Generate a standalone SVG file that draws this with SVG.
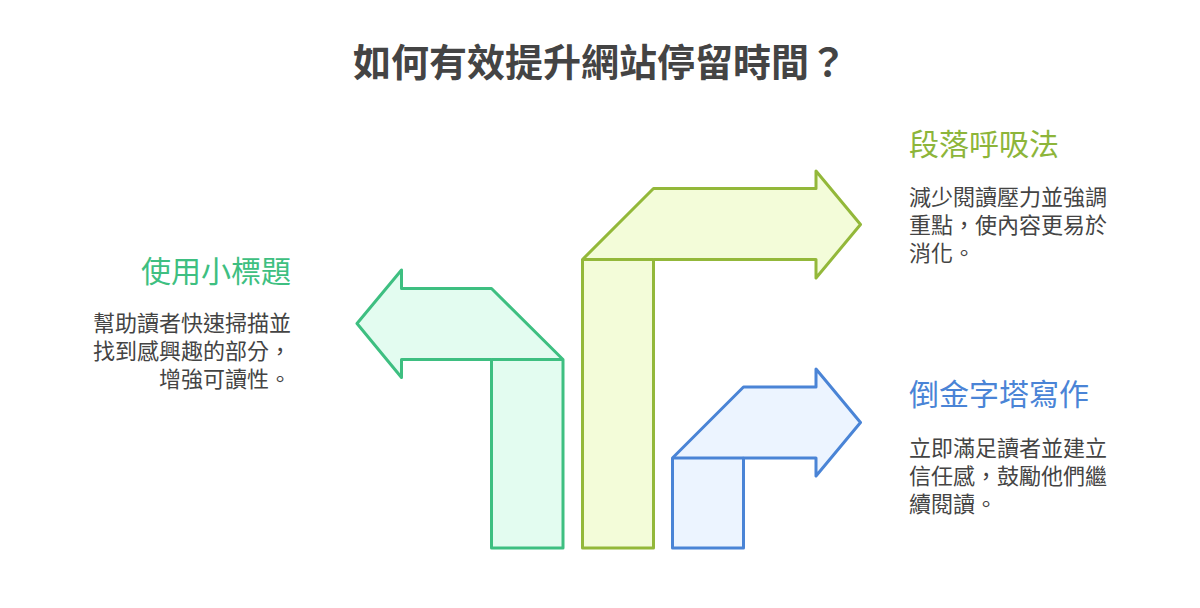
<svg xmlns="http://www.w3.org/2000/svg" width="1200" height="608" viewBox="0 0 1200 608">
<style>
.t{font-family:"Noto Sans CJK TC","Noto Sans CJK SC",sans-serif}
.title{font-size:38px;font-weight:bold;fill:#444444}
.h{font-size:30px}
.b{font-size:22px;fill:#444444}
.s{stroke-width:3;stroke-linejoin:round}
</style>
<rect width="1200" height="608" fill="#ffffff"/>
<text class="t title" x="600" y="76" text-anchor="middle">如何有效提升網站停留時間？</text>
<g id="arrows">
<g id="arrow-green">
<path class="s" fill="#e3fcf0" stroke="#3ebf81" d="M357,323.5 L401.5,270 L401.5,288.5 L491.5,288.5 L563,359.5 L563,548 L491.5,548 L491.5,359.5 L401.5,359.5 L401.5,377.5 Z"/>
<path class="s" fill="none" stroke="#3ebf81" d="M491.5,359.5 L563,359.5"/>
</g>
<g id="arrow-lime">
<path class="s" fill="#f3fcd9" stroke="#93b83a" d="M582.5,548 L582.5,259.5 L653.5,188.5 L816,188.5 L816,171 L860.5,224.5 L816,278 L816,259.5 L653.5,259.5 L653.5,548 Z"/>
<path class="s" fill="none" stroke="#93b83a" d="M582.5,259.5 L653.5,259.5"/>
</g>
<g id="arrow-blue">
<path class="s" fill="#ecf4ff" stroke="#4a84d6" d="M672.5,548 L672.5,458 L743.5,387 L816,387 L816,369 L860.5,422.5 L816,476 L816,458 L743.5,458 L743.5,548 Z"/>
<path class="s" fill="none" stroke="#4a84d6" d="M672.5,458 L743.5,458"/>
</g>
</g>
<g id="node-subheadings">
<text class="t h" x="291" y="282" text-anchor="end" fill="#3ebf81">使用小標題</text>
<text class="t b" x="291" y="331" text-anchor="end">幫助讀者快速掃描並</text>
<text class="t b" x="291" y="359" text-anchor="end">找到感興趣的部分，</text>
<text class="t b" x="291" y="387" text-anchor="end">增強可讀性。</text>
</g>
<g id="node-paragraph">
<text class="t h" x="909" y="155" fill="#8db53a">段落呼吸法</text>
<text class="t b" x="909" y="205">減少閱讀壓力並強調</text>
<text class="t b" x="909" y="233">重點，使內容更易於</text>
<text class="t b" x="909" y="261">消化。</text>
</g>
<g id="node-pyramid">
<text class="t h" x="909" y="405" fill="#4a84d6">倒金字塔寫作</text>
<text class="t b" x="909" y="456">立即滿足讀者並建立</text>
<text class="t b" x="909" y="484">信任感，鼓勵他們繼</text>
<text class="t b" x="909" y="512">續閱讀。</text>
</g>
</svg>
